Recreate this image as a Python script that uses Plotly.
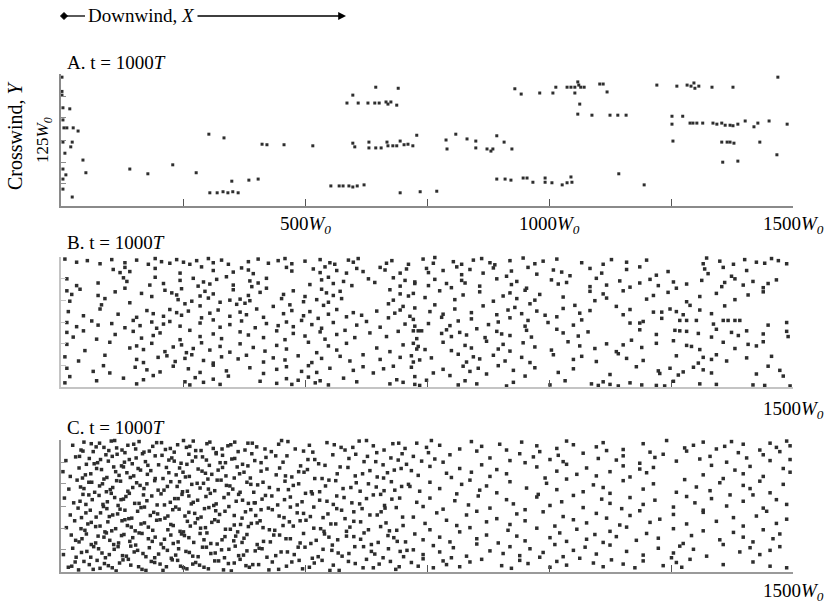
import plotly.graph_objects as go

# ---- data (W0 units) ----
X_TICKS = [0, 250, 500, 750, 1000, 1250, 1500]
Y_TICKS = [0, 41.7, 83.3, 125, 166.7, 208.3, 250]
X_LABELS_A = [500, 1000, 1500]
X_LABELS_BC = [1500]

# panel A: sparse puffs
A_X = [
    2, 2, 2, 18, 4, 4, 6, 12, 25, 35,
    4, 23, 20, 8, 45, 4, 51, 10, 4, 4,
    23, 141, 178, 229, 277, 303, 334, 412, 422, 457,
    350, 385, 404, 305, 320, 332, 342, 352, 363, 645,
    691, 598, 586, 609, 629, 643, 652, 666, 670, 676,
    688, 930, 943, 981, 516, 598, 602, 631, 631, 645,
    656, 668, 670, 680, 688, 695, 703, 711, 721, 729,
    789, 809, 832, 850, 893, 908, 791, 850, 873, 881,
    885, 924, 553, 570, 578, 590, 598, 607, 621, 695,
    736, 770, 893, 910, 922, 947, 955, 967, 992, 992,
    1008, 1014, 1037, 1045, 1053, 1059, 1061, 1065, 1072, 1053,
    1104, 1111, 1119, 1221, 1262, 1283, 1291, 1297, 1299, 1307,
    1334, 1377, 1469, 1063, 1059, 1088, 1125, 1141, 1158, 1252,
    1274, 1252, 1289, 1295, 1303, 1315, 1336, 1344, 1354, 1361,
    1371, 1377, 1387, 1402, 1420, 1428, 1451, 1488, 1254, 1354,
    1365, 1371, 1379, 1432, 1467, 1356, 1387, 1006, 1027, 1037,
    1045, 1047, 1143, 1195,
]
A_Y = [
    244, 217, 210, 184, 186, 163, 148, 148, 148, 142,
    121, 121, 112, 100, 87, 70, 63, 59, 51, 32,
    17, 70, 61, 78, 63, 136, 129, 117, 116, 116,
    47, 49, 51, 25, 25, 27, 25, 27, 25, 225,
    223, 210, 195, 195, 195, 195, 195, 197, 193, 197,
    191, 222, 212, 214, 114, 119, 112, 121, 110, 110,
    110, 121, 114, 114, 114, 123, 116, 117, 114, 134,
    125, 136, 127, 123, 133, 121, 108, 110, 108, 104,
    108, 108, 38, 38, 38, 38, 36, 38, 40, 25,
    27, 28, 51, 51, 49, 53, 53, 45, 53, 45,
    214, 225, 225, 225, 225, 235, 229, 225, 225, 214,
    231, 231, 216, 229, 227, 229, 227, 233, 223, 227,
    225, 225, 244, 193, 174, 172, 172, 172, 172, 170,
    170, 155, 157, 157, 157, 157, 157, 155, 157, 153,
    153, 152, 155, 161, 150, 157, 161, 155, 123, 121,
    121, 121, 119, 121, 97, 83, 85, 44, 40, 44,
    55, 45, 61, 40,
]

# panel B: one list per crosswind band
B_X = [
    [8, 32, 54, 80, 104, 131, 155, 179, 193, 206, 223, 237, 251, 264, 278, 302, 312, 329, 343, 384, 404, 425, 445, 459, 473, 500, 531, 551, 561, 589, 599, 609, 667, 678, 712],
    [107, 121, 131, 141, 193, 244, 288, 312, 353, 370, 384, 394, 462, 473, 517, 531, 541, 565, 585, 606, 619, 654, 664, 695, 708],
    [12, 32, 76, 128, 135, 182, 193, 210, 244, 271, 281, 292, 305, 319, 339, 353, 387, 391, 404, 421, 510, 534, 548, 558, 579, 596, 630, 643, 681, 695, 705, 725],
    [12, 22, 39, 76, 111, 131, 165, 186, 213, 227, 237, 247, 285, 295, 312, 353, 384, 408, 421, 456, 476, 500, 534, 544, 558, 572, 674, 695, 712],
    [18, 83, 90, 141, 240, 254, 268, 285, 302, 326, 346, 360, 367, 377, 387, 435, 452, 469, 497, 524, 538, 548, 575, 671, 681, 701],
    [15, 46, 80, 117, 155, 176, 189, 210, 223, 237, 247, 261, 288, 305, 322, 346, 367, 380, 401, 415, 456, 473, 497, 510, 527, 548, 565, 585, 599, 616, 647, 671, 684, 695, 715],
    [12, 32, 63, 76, 104, 131, 148, 162, 186, 196, 210, 223, 244, 285, 312, 326, 346, 370, 398, 421, 445, 462, 476, 493, 514, 534, 558, 606, 626, 654, 705, 725],
    [12, 25, 46, 73, 111, 148, 165, 189, 203, 244, 264, 285, 312, 329, 367, 384, 415, 442, 459, 476, 500, 531, 541, 565, 582, 602, 633, 667, 691, 729],
    [12, 49, 100, 141, 155, 169, 186, 213, 230, 247, 257, 271, 288, 305, 326, 346, 367, 394, 418, 442, 462, 507, 524, 548, 565, 585, 647, 674, 701, 729],
    [8, 36, 90, 155, 169, 199, 217, 234, 254, 268, 292, 312, 329, 363, 380, 415, 435, 459, 486, 514, 534, 572, 592, 619, 654, 695, 722],
    [12, 66, 87, 100, 152, 176, 203, 230, 261, 285, 312, 339, 387, 415, 442, 462, 493, 507, 524, 551, 599, 619, 640, 661, 681],
    [8, 18, 73, 128, 155, 169, 189, 254, 264, 275, 292, 312, 326, 343, 408, 442, 462, 473, 486, 507, 521, 531, 548, 579, 606, 674, 688, 701, 725],
    [742, 763, 766, 804, 821, 845, 862, 879, 889, 920, 947, 971, 988, 1016, 1067, 1111, 1128, 1159, 1200, 1316, 1323, 1350, 1378, 1401, 1425, 1442, 1456, 1470, 1487],
    [749, 753, 783, 811, 821, 838, 865, 886, 913, 923, 957, 975, 1009, 1026, 1043, 1084, 1108, 1159, 1186, 1220, 1244, 1319, 1326, 1357, 1374, 1405],
    [725, 753, 766, 790, 800, 821, 828, 858, 893, 923, 934, 954, 1005, 1019, 1036, 1084, 1097, 1118, 1145, 1166, 1186, 1207, 1224, 1255, 1261, 1282, 1313, 1354, 1360, 1381, 1398, 1418, 1439, 1449, 1466],
    [722, 746, 776, 807, 824, 858, 886, 906, 920, 934, 951, 971, 981, 1029, 1084, 1094, 1111, 1118, 1152, 1200, 1214, 1244, 1282, 1309, 1343, 1381, 1408, 1439],
    [725, 756, 766, 783, 807, 841, 865, 893, 916, 930, 944, 961, 975, 992, 1029, 1053, 1063, 1084, 1138, 1152, 1166, 1214, 1231, 1248, 1261, 1275, 1289, 1309, 1333, 1360],
    [722, 753, 780, 797, 814, 841, 876, 896, 920, 951, 957, 998, 1016, 1050, 1067, 1166, 1186, 1193, 1231, 1268, 1282, 1302, 1337, 1357, 1367, 1381, 1391, 1449, 1487],
    [722, 732, 739, 780, 790, 800, 817, 831, 852, 869, 893, 903, 920, 954, 964, 1016, 1029, 1060, 1080, 1186, 1220, 1258, 1268, 1282, 1306, 1333, 1343, 1374, 1388, 1405, 1439, 1487, 1490],
    [722, 732, 746, 783, 800, 828, 841, 872, 896, 906, 920, 947, 971, 1005, 1039, 1063, 1094, 1118, 1138, 1152, 1169, 1190, 1220, 1255, 1282, 1292, 1309, 1357, 1381, 1408, 1425, 1439],
    [718, 735, 759, 814, 831, 845, 858, 886, 910, 944, 961, 1009, 1050, 1067, 1097, 1142, 1159, 1193, 1261, 1306, 1316, 1333, 1343, 1364, 1405, 1456],
    [718, 763, 783, 797, 824, 838, 855, 872, 896, 927, 951, 971, 1019, 1050, 1125, 1179, 1224, 1227, 1248, 1265, 1275, 1296, 1316, 1333, 1425, 1449, 1473, 1480],
    [725, 735, 749, 814, 828, 852, 913, 927, 1002, 1033, 1087, 1101, 1111, 1125, 1142, 1166, 1190, 1220, 1237, 1255, 1309, 1343, 1418, 1442, 1494],
]
B_Y = [
    [246, 240, 243, 237, 245, 239, 244, 236, 247, 241, 238, 245, 240, 236, 243, 247, 239, 244, 236, 241, 246, 238, 243, 247, 237, 242, 245, 239, 236, 244, 240, 247, 238, 243, 236],
    [226, 220, 230, 222, 228, 219, 231, 224, 221, 229, 225, 218, 230, 223, 227, 220, 231, 224, 219, 228, 222, 230, 225, 219, 227],
    [208, 195, 200, 210, 203, 196, 211, 199, 205, 209, 194, 202, 198, 207, 212, 196, 204, 193, 200, 209, 197, 206, 211, 199, 203, 195, 208, 201, 210, 194, 205, 199],
    [185, 178, 188, 176, 183, 190, 180, 174, 186, 181, 177, 189, 175, 184, 179, 187, 176, 182, 190, 178, 185, 174, 188, 181, 176, 184, 187, 179, 175],
    [165, 158, 170, 162, 168, 160, 165, 156, 171, 163, 167, 159, 169, 161, 166, 155, 170, 158, 164, 168, 157, 163, 170, 160, 167, 155],
    [145, 137, 150, 140, 134, 147, 141, 136, 149, 143, 138, 146, 133, 142, 148, 136, 144, 139, 150, 134, 141, 147, 137, 145, 132, 140, 149, 135, 143, 138, 146, 133, 142, 148, 136],
    [124, 116, 127, 119, 122, 114, 128, 118, 125, 113, 121, 126, 117, 123, 129, 115, 120, 127, 114, 122, 118, 125, 116, 128, 120, 113, 124, 119, 126, 115, 121, 117],
    [105, 96, 108, 92, 101, 107, 94, 99, 104, 91, 109, 97, 102, 93, 106, 100, 95, 108, 91, 103, 98, 106, 92, 101, 109, 95, 104, 97, 107, 93],
    [82, 70, 86, 75, 79, 72, 84, 68, 77, 81, 66, 74, 85, 71, 78, 67, 83, 76, 69, 80, 73, 86, 66, 79, 71, 84, 75, 68, 81, 73],
    [58, 50, 61, 53, 47, 57, 60, 49, 55, 62, 51, 46, 58, 54, 61, 48, 56, 52, 60, 47, 55, 59, 50, 62, 53, 57, 48],
    [36, 30, 41, 27, 38, 33, 29, 40, 35, 28, 42, 31, 37, 26, 34, 39, 30, 41, 28, 36, 32, 39, 27, 35, 40],
    [8, 20, 12, 17, 6, 14, 22, 10, 4, 18, 9, 15, 5, 21, 11, 7, 16, 5, 13, 19, 8, 12, 4, 17, 10, 6, 14, 9, 20],
    [246, 238, 249, 241, 236, 244, 247, 239, 235, 243, 248, 237, 242, 246, 239, 236, 245, 240, 244, 237, 248, 242, 236, 245, 240, 238, 247, 243, 237],
    [228, 220, 224, 231, 216, 226, 219, 229, 213, 223, 230, 217, 225, 221, 214, 228, 219, 226, 231, 215, 222, 227, 218, 230, 213, 224],
    [202, 195, 207, 199, 191, 205, 200, 194, 208, 197, 203, 190, 206, 198, 201, 193, 209, 196, 204, 192, 200, 207, 195, 202, 190, 198, 205, 193, 201, 208, 196, 203, 191, 199, 206],
    [180, 172, 185, 168, 177, 183, 165, 175, 181, 170, 186, 167, 178, 173, 184, 166, 179, 171, 185, 169, 176, 182, 164, 174, 180, 168, 177, 183],
    [152, 145, 158, 140, 150, 143, 156, 139, 148, 153, 141, 160, 146, 138, 151, 157, 142, 147, 155, 139, 149, 144, 144, 150, 145, 139, 157, 148, 141, 156],
    [130, 122, 134, 118, 127, 131, 120, 125, 133, 117, 128, 124, 135, 119, 129, 123, 123, 126, 132, 128, 128, 128, 121, 128, 128, 128, 128, 119, 124],
    [108, 108, 108, 103, 110, 97, 105, 100, 112, 95, 107, 102, 99, 109, 96, 111, 104, 98, 106, 110, 101, 109, 108, 107, 103, 96, 111, 105, 99, 108, 102, 107, 97],
    [84, 78, 72, 86, 70, 80, 75, 88, 73, 82, 69, 85, 77, 71, 87, 79, 74, 83, 68, 81, 90, 76, 84, 89, 80, 78, 72, 86, 74, 82, 79, 87],
    [60, 52, 56, 63, 48, 58, 54, 61, 50, 57, 47, 62, 53, 59, 49, 64, 55, 51, 60, 46, 57, 53, 62, 50, 56, 59],
    [38, 27, 34, 22, 40, 30, 36, 25, 41, 32, 21, 37, 28, 35, 24, 39, 31, 26, 36, 23, 29, 38, 33, 27, 25, 40, 32, 21],
    [5, 3, 13, 4, 12, 6, 2, 9, 4, 12, 6, 3, 10, 5, 2, 8, 4, 3, 2, 11, 6, 5, 4, 3, 2],
]

# panel C: densest near the source, thinning downwind; one list per crosswind band
C_X = [
    # x < 715
    [24, 41, 47, 66, 72, 79, 98, 110, 114, 131, 149, 153, 160, 181, 188, 206, 214, 232, 239, 257, 271, 276, 299, 312, 318, 342, 356, 377, 383, 401, 431, 446, 452, 480, 509, 516, 545, 574, 582, 611, 640, 647, 680, 705],
    [10, 30, 52, 58, 75, 92, 97, 105, 124, 140, 146, 167, 173, 193, 200, 221, 227, 246, 262, 269, 290, 304, 326, 331, 350, 372, 391, 397, 420, 455, 463, 491, 520, 528, 557, 590, 621, 628, 660, 691, 699],
    [4, 19, 37, 44, 61, 83, 88, 108, 119, 135, 142, 158, 177, 184, 209, 216, 236, 250, 255, 281, 296, 301, 322, 338, 361, 366, 388, 410, 441, 448, 473, 498, 505, 535, 566, 572, 603, 633, 661, 669, 697],
    [16, 33, 40, 57, 69, 85, 101, 106, 122, 137, 155, 162, 170, 192, 211, 218, 243, 249, 268, 285, 292, 315, 328, 346, 352, 381, 395, 403, 427, 459, 466, 487, 513, 542, 549, 578, 605, 613, 646, 677, 684, 712],
    [7, 26, 45, 51, 64, 78, 95, 103, 117, 128, 133, 151, 169, 176, 197, 205, 224, 240, 262, 267, 280, 306, 313, 334, 359, 364, 384, 412, 419, 444, 470, 494, 501, 530, 558, 565, 596, 626, 655, 663, 694],
    [19, 35, 42, 60, 81, 87, 99, 116, 121, 139, 157, 164, 183, 190, 213, 229, 235, 254, 274, 287, 294, 317, 325, 344, 371, 378, 399, 425, 433, 457, 484, 511, 518, 547, 575, 582, 617, 648, 656, 687],
    [11, 28, 49, 55, 71, 90, 96, 112, 131, 136, 152, 171, 179, 196, 219, 225, 244, 259, 265, 286, 309, 315, 337, 355, 362, 390, 408, 414, 438, 468, 476, 502, 532, 539, 563, 592, 600, 630, 666, 673, 701],
    [21, 37, 43, 62, 76, 93, 100, 118, 129, 147, 153, 166, 187, 193, 212, 230, 247, 253, 272, 293, 299, 320, 336, 354, 375, 381, 402, 429, 436, 461, 490, 497, 523, 549, 556, 585, 614, 621, 650, 682, 689],
    [5, 24, 31, 53, 67, 84, 91, 109, 126, 143, 150, 174, 181, 200, 218, 226, 241, 263, 270, 290, 307, 329, 335, 357, 374, 398, 406, 422, 451, 478, 486, 515, 537, 568, 576, 602, 636, 643, 671, 702, 709],
    [15, 29, 36, 58, 74, 80, 97, 113, 120, 138, 159, 166, 185, 203, 209, 228, 245, 251, 276, 284, 302, 323, 343, 349, 367, 386, 393, 426, 433, 462, 488, 495, 519, 551, 558, 589, 619, 626, 652, 686, 693],
    # extra points in the dense region near the source
    [45, 62, 88, 103, 125, 137, 170, 196, 224, 251, 264, 287, 305, 330, 348, 363, 392],
    [38, 68, 81, 115, 130, 154, 178, 207, 232, 258, 276, 298, 318, 337, 356, 383],
    [50, 73, 94, 112, 128, 149, 163, 193, 221, 243, 263, 289, 309, 331, 355, 375],
    [47, 63, 79, 93, 114, 147, 176, 199, 225, 238, 259, 279, 302, 320, 339, 367, 389],
    [39, 57, 86, 110, 123, 140, 160, 186, 212, 233, 248, 271, 297, 318, 343, 372, 396],
    [51, 72, 94, 106, 131, 145, 171, 198, 219, 242, 262, 280, 303, 336, 355, 389],
    [41, 62, 80, 104, 125, 144, 164, 188, 203, 230, 251, 275, 296, 322, 347, 368, 384],
    [30, 52, 71, 88, 108, 124, 141, 160, 179, 205, 225, 240, 262, 285, 307, 330, 358, 371],
    [42, 61, 77, 99, 117, 134, 157, 168, 192, 210, 235, 256, 281, 298, 316, 344, 364, 381],
    [22, 47, 66, 89, 105, 127, 143, 174, 192, 216, 239, 258, 270, 293, 315, 333, 355, 379],
    # extra points mid-field
    [418, 465, 497, 560, 598, 626, 662, 692],
    [410, 440, 506, 541, 604, 645, 676, 708],
    [422, 460, 487, 520, 588, 618, 648, 683],
    [414, 445, 476, 530, 563, 594, 630, 662, 698],
    [398, 432, 458, 484, 515, 545, 580, 612, 640, 678],
    [410, 447, 470, 497, 537, 565, 600, 633, 664, 700],
    [402, 427, 455, 490, 518, 553, 585, 614, 655, 688],
    [415, 448, 470, 512, 540, 567, 600, 636, 670, 706],
    [412, 440, 464, 500, 527, 555, 590, 620, 660, 695],
    [405, 446, 473, 509, 535, 570, 603, 640, 675],
    # x > 715
    [729, 749, 759, 776, 817, 841, 862, 899, 913, 944, 975, 1016, 1036, 1050, 1097, 1111, 1152, 1193, 1241, 1278, 1296, 1316, 1343, 1360, 1374, 1398, 1432, 1453, 1466, 1487, 1494],
    [722, 739, 753, 766, 783, 797, 852, 879, 920, 940, 951, 968, 981, 1002, 1019, 1029, 1070, 1101, 1118, 1138, 1152, 1186, 1207, 1217, 1234, 1261, 1282, 1309, 1330, 1364, 1388, 1405, 1439, 1453, 1473, 1494],
    [718, 732, 756, 790, 800, 817, 841, 862, 879, 893, 913, 975, 992, 1016, 1036, 1057, 1077, 1097, 1125, 1152, 1166, 1186, 1200, 1214, 1316, 1333, 1357, 1381, 1398, 1412, 1439, 1480, 1494],
    [715, 735, 756, 776, 811, 821, 838, 858, 872, 893, 920, 954, 978, 995, 1016, 1036, 1070, 1091, 1111, 1125, 1152, 1193, 1214, 1261, 1278, 1302, 1330, 1350, 1371, 1398, 1412, 1432, 1453, 1480],
    [729, 742, 756, 783, 807, 835, 855, 879, 913, 927, 951, 975, 1002, 1026, 1050, 1070, 1108, 1125, 1149, 1166, 1193, 1217, 1255, 1282, 1299, 1316, 1333, 1364, 1398, 1418, 1439, 1466, 1487],
    [722, 746, 770, 790, 811, 831, 852, 872, 893, 920, 934, 951, 988, 1012, 1029, 1050, 1077, 1097, 1118, 1145, 1166, 1186, 1207, 1227, 1255, 1282, 1316, 1343, 1378, 1398, 1425, 1446, 1466, 1487],
    [725, 742, 756, 776, 797, 817, 838, 852, 872, 896, 916, 934, 951, 975, 1002, 1022, 1036, 1057, 1077, 1094, 1111, 1125, 1138, 1159, 1179, 1200, 1224, 1255, 1275, 1292, 1316, 1350, 1378, 1398, 1418, 1439, 1459, 1473],
    [722, 742, 763, 776, 804, 831, 852, 879, 906, 920, 940, 961, 988, 1012, 1029, 1050, 1074, 1097, 1125, 1159, 1193, 1224, 1255, 1268, 1296, 1323, 1357, 1391, 1412, 1432, 1453, 1473],
    [718, 732, 742, 763, 783, 790, 800, 817, 838, 862, 903, 923, 940, 957, 981, 1002, 1016, 1036, 1063, 1091, 1111, 1128, 1152, 1176, 1193, 1234, 1251, 1261, 1272, 1289, 1357, 1418, 1453, 1487],
]
C_Y = [
    [240, 231, 246, 228, 237, 244, 230, 249, 235, 226, 242, 233, 247, 229, 238, 245, 232, 227, 241, 236, 248, 230, 243, 234, 226, 239, 246, 231, 244, 237, 228, 242, 249, 233, 240, 227, 245, 236, 231, 248, 239, 226, 243, 234],
    [211, 218, 204, 215, 207, 222, 210, 219, 201, 213, 205, 224, 209, 220, 203, 212, 216, 206, 223, 210, 218, 202, 207, 221, 214, 204, 224, 211, 217, 208, 220, 201, 213, 205, 222, 215, 209, 219, 203, 212, 224],
    [190, 181, 197, 178, 186, 194, 176, 199, 183, 188, 179, 196, 185, 192, 177, 198, 184, 189, 180, 195, 187, 176, 193, 182, 199, 186, 178, 191, 184, 197, 180, 189, 194, 177, 186, 199, 182, 192, 178, 188, 196],
    [157, 174, 161, 170, 151, 167, 156, 160, 172, 153, 169, 164, 158, 173, 155, 162, 171, 152, 166, 159, 168, 154, 174, 163, 157, 170, 151, 165, 160, 172, 156, 167, 152, 163, 174, 158, 169, 153, 161, 171, 155, 166],
    [140, 131, 147, 128, 137, 145, 133, 149, 126, 138, 143, 130, 146, 135, 127, 148, 132, 139, 144, 129, 136, 149, 126, 141, 134, 147, 130, 138, 145, 127, 142, 133, 149, 136, 128, 144, 131, 139, 147, 126, 140],
    [108, 121, 103, 117, 112, 124, 105, 110, 119, 101, 115, 122, 107, 113, 102, 118, 123, 106, 111, 104, 120, 116, 109, 124, 102, 114, 107, 121, 118, 103, 112, 105, 123, 110, 117, 101, 120, 108, 114, 122],
    [84, 97, 79, 91, 86, 76, 95, 82, 99, 88, 78, 93, 85, 98, 80, 90, 77, 96, 87, 83, 94, 99, 81, 89, 76, 92, 97, 84, 79, 95, 87, 98, 82, 77, 91, 85, 96, 80, 93, 78, 88],
    [70, 57, 63, 52, 68, 74, 60, 55, 71, 65, 51, 73, 58, 66, 62, 54, 72, 69, 56, 61, 74, 53, 67, 59, 64, 71, 52, 57, 70, 63, 55, 73, 60, 66, 51, 68, 62, 74, 56, 65, 58],
    [33, 45, 28, 39, 48, 36, 27, 43, 31, 49, 38, 29, 46, 34, 41, 26, 44, 37, 30, 47, 35, 42, 27, 49, 32, 40, 45, 28, 38, 33, 47, 26, 43, 36, 30, 48, 39, 34, 44, 29, 41],
    [9, 19, 4, 14, 22, 7, 12, 2, 17, 24, 10, 5, 20, 15, 3, 23, 11, 8, 18, 13, 6, 21, 16, 2, 24, 9, 14, 4, 19, 11, 22, 6, 17, 3, 13, 20, 8, 24, 15, 5, 10],
    [229, 243, 236, 248, 231, 240, 227, 245, 234, 249, 238, 230, 246, 233, 241, 228, 244],
    [219, 205, 213, 223, 208, 216, 202, 221, 210, 204, 218, 212, 224, 207, 215, 201],
    [184, 196, 179, 190, 199, 182, 193, 177, 188, 197, 181, 191, 185, 198, 178, 189],
    [158, 170, 163, 152, 173, 160, 167, 155, 171, 162, 153, 168, 157, 174, 164, 151, 166],
    [134, 146, 128, 141, 137, 149, 130, 144, 127, 139, 147, 132, 143, 129, 148, 136, 131],
    [112, 104, 120, 108, 117, 102, 123, 110, 106, 119, 113, 101, 122, 115, 107, 118],
    [82, 94, 87, 78, 97, 85, 91, 79, 99, 88, 76, 93, 84, 96, 81, 90, 86],
    [60, 72, 55, 66, 52, 69, 58, 74, 63, 53, 70, 57, 65, 73, 54, 61, 68, 56],
    [37, 28, 44, 33, 48, 30, 41, 35, 27, 46, 32, 39, 29, 47, 36, 43, 31, 40],
    [11, 20, 5, 16, 8, 23, 13, 3, 18, 10, 22, 6, 15, 9, 21, 4, 17, 12],
    [233, 247, 229, 241, 236, 249, 231, 244],
    [207, 220, 213, 202, 223, 209, 216, 204],
    [195, 182, 190, 177, 198, 186, 180, 193],
    [170, 156, 164, 152, 173, 160, 167, 154, 162],
    [131, 144, 137, 127, 148, 134, 141, 129, 146, 138],
    [118, 106, 123, 111, 103, 120, 114, 108, 121, 104],
    [93, 80, 88, 97, 83, 91, 77, 95, 86, 79],
    [58, 70, 63, 54, 72, 61, 67, 52, 69, 57],
    [44, 31, 38, 47, 29, 41, 35, 48, 27, 39],
    [14, 5, 19, 9, 22, 3, 16, 8, 20],
    [244, 236, 249, 240, 233, 247, 238, 242, 231, 246, 239, 234, 248, 241, 237, 245, 232, 243, 249, 235, 240, 246, 233, 238, 247, 242, 231, 244, 236, 248, 239],
    [219, 210, 226, 214, 208, 222, 229, 216, 211, 224, 207, 218, 228, 213, 221, 209, 225, 215, 230, 212, 220, 206, 227, 217, 223, 210, 229, 214, 219, 208, 226, 216, 222, 211, 228, 213],
    [192, 183, 200, 187, 179, 196, 189, 203, 181, 194, 186, 199, 178, 191, 204, 185, 197, 182, 190, 201, 180, 195, 188, 198, 184, 202, 177, 193, 186, 200, 181, 196, 189],
    [162, 153, 170, 158, 148, 166, 174, 155, 163, 150, 171, 159, 147, 168, 156, 176, 152, 165, 160, 149, 173, 157, 167, 151, 175, 161, 154, 169, 146, 164, 158, 172, 150, 166],
    [132, 124, 140, 119, 135, 127, 144, 121, 137, 129, 118, 142, 126, 133, 145, 122, 138, 130, 120, 141, 128, 136, 123, 143, 131, 117, 139, 125, 134, 146, 121, 137, 128],
    [104, 92, 112, 98, 88, 108, 115, 95, 101, 90, 110, 97, 114, 87, 105, 99, 93, 111, 102, 89, 107, 116, 94, 100, 109, 91, 113, 96, 103, 87, 106, 115, 92, 100],
    [72, 61, 80, 66, 57, 76, 84, 63, 70, 55, 79, 68, 59, 83, 65, 74, 58, 81, 62, 71, 56, 77, 67, 85, 60, 73, 64, 82, 54, 69, 78, 61, 75, 66, 57, 80, 63, 72],
    [42, 33, 50, 38, 46, 30, 53, 40, 35, 48, 31, 44, 37, 52, 29, 41, 47, 34, 51, 39, 32, 45, 36, 49, 43, 30, 52, 38, 46, 33, 41, 48],
    [18, 11, 25, 8, 21, 14, 27, 10, 19, 24, 12, 7, 22, 16, 28, 9, 20, 13, 26, 17, 10, 23, 15, 8, 21, 12, 27, 18, 9, 24, 14, 19, 11, 8],
]

W, H = 830, 607
SERIF = "Liberation Serif, Times New Roman, serif"
W0 = "<i>W</i><sub><i>0</i></sub>"


def flatten(rows_x, rows_y):
    xs, ys = [], []
    for rx, ry in zip(rows_x, rows_y):
        n = min(len(rx), len(ry))
        xs += rx[:n]
        ys += ry[:n]
    return xs, ys


def px_x(p):
    return p / W


def px_y(p):
    return 1 - p / H


panels = [
    # name, x data, y data, top px, bottom px, title px, label px, axis colour, marker size
    ("A", A_X, A_Y, 74, 206, 62, 225, "#8a8a8a", 3),
    ("B", *flatten(B_X, B_Y), 257, 387, 242, 410, "#c4c4c4", 3.5),
    ("C", *flatten(C_X, C_Y), 440, 572, 427, 592, "#9a9a9a", 3.5),
]

fig = go.Figure()
layout = dict(
    width=W, height=H,
    margin=dict(l=0, r=0, t=0, b=0),
    paper_bgcolor="white", plot_bgcolor="white",
    showlegend=False,
    font=dict(family=SERIF, size=19, color="black"),
)
annotations = []

for i, (name, xs, ys, top, bot, title_y, label_y, axcol, msize) in enumerate(panels, start=1):
    sfx = "" if i == 1 else str(i)
    fig.add_trace(go.Scatter(
        x=xs, y=ys, mode="markers",
        marker=dict(symbol="square", size=msize, color="#2e2e2e", line=dict(width=0)),
        xaxis="x" + sfx, yaxis="y" + sfx, cliponaxis=False, hoverinfo="skip",
    ))
    layout["xaxis" + sfx] = dict(
        domain=[px_x(61), px_x(793)], range=[0, 1500], anchor="y" + sfx,
        showline=True, linecolor=axcol, linewidth=1.5, ticks="inside",
        tickvals=X_TICKS, ticklen=7, tickcolor="#555", tickwidth=1,
        showticklabels=False, showgrid=False, zeroline=False, fixedrange=True,
    )
    layout["yaxis" + sfx] = dict(
        domain=[px_y(bot), px_y(top)], range=[0, 250], anchor="x" + sfx,
        showline=True, linecolor=axcol, linewidth=1.5, ticks="inside",
        tickvals=Y_TICKS, ticklen=5, tickcolor=axcol, tickwidth=1,
        showticklabels=False, showgrid=False, zeroline=False, fixedrange=True,
    )
    # panel title
    annotations.append(dict(
        text=f"{name}. t = 1000<i>T</i>", xref="paper", yref="paper",
        x=px_x(65), y=px_y(title_y), xanchor="left", yanchor="middle",
        showarrow=False, font=dict(family=SERIF, size=19),
    ))
    # x tick labels
    for v in (X_LABELS_A if i == 1 else X_LABELS_BC):
        annotations.append(dict(
            text=f"{v}{W0}", xref="x" + sfx, yref="paper",
            x=v, y=px_y(label_y), xanchor="center", yanchor="middle",
            showarrow=False, font=dict(family=SERIF, size=19),
        ))

# axis titles and wind direction arrow
annotations += [
    dict(text="Crosswind, <i>Y</i>", xref="paper", yref="paper",
         x=px_x(15), y=px_y(136), xanchor="center", yanchor="middle",
         textangle=-90, showarrow=False, font=dict(family=SERIF, size=20)),
    dict(text=f"125{W0}", xref="paper", yref="paper",
         x=px_x(44), y=px_y(140), xanchor="center", yanchor="middle",
         textangle=-90, showarrow=False, font=dict(family=SERIF, size=17)),
    dict(text="Downwind, <i>X</i>", xref="paper", yref="paper",
         x=px_x(141), y=px_y(16), xanchor="center", yanchor="middle",
         showarrow=False, font=dict(family=SERIF, size=19)),
    dict(text="", xref="paper", yref="paper", x=px_x(346), y=px_y(16),
         ax=-150, ay=0, showarrow=True, arrowhead=2, arrowsize=1.2,
         arrowwidth=1.3, arrowcolor="black"),
]

dx, dy = 3.5 / W, 3.5 / H
cx, cy = px_x(64), px_y(16)
shapes = [
    dict(type="line", xref="paper", yref="paper",
         x0=px_x(64), x1=px_x(85), y0=cy, y1=cy, line=dict(color="black", width=1.3)),
    dict(type="path", xref="paper", yref="paper",
         path=f"M {cx - dx},{cy} L {cx},{cy + dy} L {cx + dx},{cy} L {cx},{cy - dy} Z",
         fillcolor="black", line=dict(color="black", width=1)),
]

layout["annotations"] = annotations
layout["shapes"] = shapes
fig.update_layout(**layout)

fig.write_html(
    "out.html",
    config={"displayModeBar": False},
    post_script="document.body.style.margin='0';",
)
